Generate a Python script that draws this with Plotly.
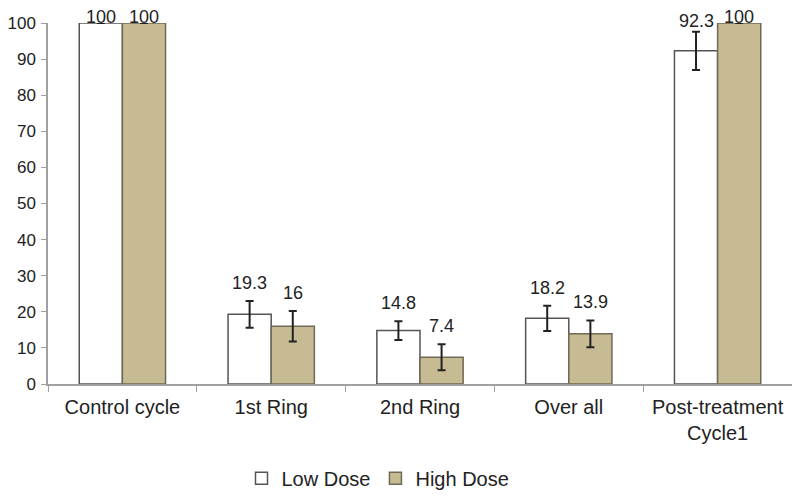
import plotly.graph_objects as go

categories = ["Control cycle", "1st Ring", "2nd Ring", "Over all", "Post-treatment<br>Cycle1"]
low_dose = [100, 19.3, 14.8, 18.2, 92.3]
high_dose = [100, 16, 7.4, 13.9, 100]
low_err = [None, 3.7, 2.6, 3.5, 5.3]
high_err = [None, 4.2, 3.6, 3.7, None]
low_labels = ["100", "19.3", "14.8", "18.2", "92.3"]
high_labels = ["100", "16", "7.4", "13.9", "100"]
y_ticks = list(range(0, 101, 10))

fig = go.Figure()
fig.add_trace(go.Bar(
    x=categories, y=low_dose, name="Low Dose",
    marker=dict(color="white", line=dict(color="#555555", width=1.5)),
    error_y=dict(type="data", array=low_err, visible=True, color="#222222", thickness=2, width=4),
))
fig.add_trace(go.Bar(
    x=categories, y=high_dose, name="High Dose",
    marker=dict(color="#c6bb92", line=dict(color="#6f6a55", width=1.5)),
    error_y=dict(type="data", array=high_err, visible=True, color="#222222", thickness=2, width=4),
))

annotations = []
for vals, errs, labs, shift in [(low_dose, low_err, low_labels, -21.5), (high_dose, high_err, high_labels, 21.5)]:
    for c, v, e, t in zip(categories, vals, errs, labs):
        top = v + (e if e else 0)
        if not e:
            ys = -6
        elif top > 90:
            ys = -1
        else:
            ys = 6
        annotations.append(dict(
            x=c, y=top, text=t, xref="x", yref="y", showarrow=False,
            xshift=shift, yshift=ys, yanchor="bottom",
            font=dict(size=18, color="#222222", family="Liberation Sans, Arial"),
        ))

fig.update_layout(
    width=800, height=497,
    paper_bgcolor="white", plot_bgcolor="white",
    margin=dict(l=40, r=16, t=15, b=121),
    barmode="group", bargap=0.42, bargroupgap=0,
    font=dict(family="Liberation Sans, Arial", size=17, color="#222222"),
    showlegend=True,
    legend=dict(orientation="h", x=0.4625, xanchor="center", xref="container",
                y=0.054, yanchor="middle", yref="container",
                font=dict(size=20), itemwidth=30, traceorder="normal"),
    annotations=annotations,
)
fig.update_xaxes(
    showline=True, linecolor="#a0a0a0", linewidth=1.5,
    ticks="outside", tickson="boundaries", ticklen=6, tickcolor="#a0a0a0",
    showgrid=False, tickfont=dict(size=20), ticklabelstandoff=4, automargin=False,
)
fig.update_yaxes(
    range=[0, 100], tickvals=y_ticks,
    showline=True, linecolor="#a0a0a0", linewidth=1.5,
    ticks="outside", ticklen=5, tickcolor="#a0a0a0",
    showgrid=False, zeroline=False, tickfont=dict(size=17), ticklabelstandoff=2,
    automargin=False,
)
fig.write_html("out.html")
